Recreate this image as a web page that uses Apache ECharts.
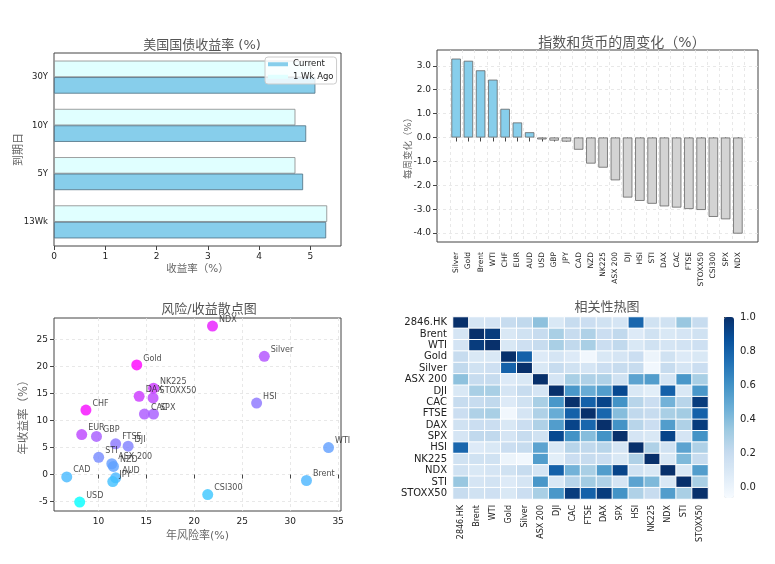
<!DOCTYPE html>
<html lang="zh">
<head>
<meta charset="UTF-8">
<title>市场周报</title>
<script src="https://cdn.jsdelivr.net/npm/echarts@6/dist/echarts.min.js"></script>
<style>
  html, body { margin: 0; padding: 0; background: #fff; }
  #main { width: 775px; height: 564px; }
</style>
</head>
<body>
<div id="main"></div>
<script>
  // 美国国债收益率
  var yieldCats = ['13Wk', '5Y', '10Y', '30Y'];
  var yieldCurrent = [5.31, 4.86, 4.92, 5.10];
  var yieldWeekAgo = [5.33, 4.71, 4.71, 5.02];

  // 指数和货币的周变化
  var weeklyNames = ['Silver', 'Gold', 'Brent', 'WTI', 'CHF', 'EUR', 'AUD', 'USD', 'GBP', 'JPY', 'CAD', 'NZD',
    'NK225', 'ASX 200', 'DJI', 'HSI', 'STI', 'DAX', 'CAC', 'FTSE', 'STOXX50', 'CSI300', 'SPX', 'NDX'];
  var weeklyChange = [3.30, 3.21, 2.81, 2.42, 1.20, 0.63, 0.22, -0.08, -0.13, -0.17, -0.51, -1.09,
    -1.26, -1.79, -2.51, -2.65, -2.77, -2.88, -2.93, -2.99, -3.03, -3.32, -3.42, -4.02];

  // 风险/收益
  var scatterNames = ['NDX', 'Silver', 'Gold', 'NK225', 'DAX', 'STOXX50', 'HSI', 'CHF', 'CAC', 'SPX', 'EUR', 'GBP',
    'FTSE', 'DJI', 'WTI', 'STI', 'ASX 200', 'NZD', 'CAD', 'AUD', 'JPY', 'Brent', 'CSI300', 'USD'];
  var scatterRisk = [21.9, 27.3, 14.0, 15.75, 14.25, 15.7, 26.5, 8.7, 14.8, 15.75, 8.26, 9.8,
    11.8, 13.1, 34.0, 10.03, 11.4, 11.57, 6.7, 11.8, 11.5, 31.7, 21.4, 8.05];
  var scatterReturn = [27.5, 21.9, 20.3, 16.0, 14.5, 14.2, 13.25, 11.95, 11.2, 11.2, 7.4, 7.06,
    5.7, 5.26, 5.0, 3.2, 2.0, 1.5, -0.43, -0.6, -1.3, -1.1, -3.7, -5.1];

  // 相关性
  var corrNames = ['2846.HK', 'Brent', 'WTI', 'Gold', 'Silver', 'ASX 200', 'DJI', 'CAC', 'FTSE', 'DAX', 'SPX',
    'HSI', 'NK225', 'NDX', 'STI', 'STOXX50'];
  var corrMatrix = [
    [1.00, 0.12, 0.13, 0.20, 0.22, 0.38, 0.10, 0.20, 0.18, 0.15, 0.12, 0.78, 0.15, 0.15, 0.35, 0.20],
    [0.12, 1.00, 0.95, 0.10, 0.15, 0.20, 0.30, 0.20, 0.28, 0.18, 0.22, 0.08, 0.15, 0.10, 0.12, 0.15],
    [0.13, 0.95, 1.00, 0.10, 0.16, 0.20, 0.30, 0.22, 0.30, 0.18, 0.22, 0.10, 0.15, 0.12, 0.14, 0.16],
    [0.20, 0.10, 0.10, 1.00, 0.80, 0.08, 0.12, 0.08, -0.03, 0.10, 0.12, 0.18, 0.00, 0.15, 0.08, 0.10],
    [0.22, 0.15, 0.16, 0.80, 1.00, 0.10, 0.20, 0.15, 0.12, 0.18, 0.20, 0.20, -0.03, 0.20, 0.12, 0.18],
    [0.38, 0.20, 0.20, 0.08, 0.10, 1.00, 0.12, 0.30, 0.28, 0.28, 0.15, 0.52, 0.55, 0.12, 0.58, 0.30],
    [0.10, 0.30, 0.30, 0.12, 0.20, 0.12, 1.00, 0.58, 0.48, 0.55, 0.90, 0.10, 0.05, 0.80, 0.10, 0.58],
    [0.20, 0.20, 0.22, 0.08, 0.15, 0.30, 0.58, 1.00, 0.80, 0.92, 0.60, 0.25, 0.18, 0.45, 0.25, 0.95],
    [0.18, 0.28, 0.30, -0.03, 0.12, 0.28, 0.48, 0.80, 1.00, 0.78, 0.40, 0.22, 0.20, 0.30, 0.32, 0.80],
    [0.15, 0.18, 0.18, 0.10, 0.18, 0.28, 0.55, 0.92, 0.78, 1.00, 0.60, 0.25, 0.18, 0.55, 0.28, 0.95],
    [0.12, 0.22, 0.22, 0.12, 0.20, 0.15, 0.90, 0.60, 0.40, 0.60, 1.00, 0.12, 0.10, 0.92, 0.12, 0.60],
    [0.78, 0.08, 0.10, 0.18, 0.20, 0.52, 0.10, 0.25, 0.22, 0.25, 0.12, 1.00, 0.28, 0.15, 0.52, 0.28],
    [0.15, 0.15, 0.15, 0.00, -0.03, 0.55, 0.05, 0.18, 0.20, 0.18, 0.10, 0.28, 1.00, 0.10, 0.42, 0.20],
    [0.15, 0.10, 0.12, 0.15, 0.20, 0.12, 0.80, 0.45, 0.30, 0.55, 0.92, 0.15, 0.10, 1.00, 0.10, 0.55],
    [0.35, 0.12, 0.14, 0.08, 0.12, 0.58, 0.10, 0.25, 0.32, 0.28, 0.12, 0.52, 0.42, 0.10, 1.00, 0.30],
    [0.20, 0.15, 0.16, 0.10, 0.18, 0.30, 0.58, 0.95, 0.80, 0.95, 0.60, 0.28, 0.20, 0.55, 0.30, 1.00]
  ];
  var colorbarTicks = [0, 0.2, 0.4, 0.6, 0.8, 1.0];

  var FONT = 'DejaVu Sans, Noto Sans CJK SC, sans-serif';
  var frame = '#444';
  var dashed = { show: true, lineStyle: { color: '#e3e3e3', type: [3, 3], width: 0.8 } };

  var scatterData = scatterNames.map(function (n, i) {
    // 第三维用于着色：收益 / 风险
    return { name: n, value: [scatterRisk[i], scatterReturn[i], scatterReturn[i] / scatterRisk[i]] };
  });

  var heatData = [];
  corrMatrix.forEach(function (row, i) {
    row.forEach(function (v, j) { heatData.push([j, i, v]); });
  });

  function txt(size, color) {
    return { fontSize: size, color: color || '#222', fontFamily: FONT };
  }
  var titleStyle = { fontSize: 13, fontWeight: 'normal', color: '#555', fontFamily: FONT };

  var chart = echarts.init(document.getElementById('main'));
  var option = {
    backgroundColor: '#fff',
    animation: false,
    textStyle: { fontFamily: FONT },
    title: [
      { text: '美国国债收益率 (%)', left: 197, top: 34, textAlign: 'center', textStyle: titleStyle },
      { text: '指数和货币的周变化（%）', left: 617, top: 31, textAlign: 'center',
        textStyle: Object.assign({}, titleStyle, { fontSize: 14 }) },
      { text: '风险/收益散点图', left: 204, top: 298, textAlign: 'center', textStyle: titleStyle },
      { text: '相关性热图', left: 602, top: 296, textAlign: 'center', textStyle: titleStyle }
    ],
    legend: {
      data: ['Current', '1 Wk Ago'],
      orient: 'vertical',
      left: 265, top: 57,
      itemWidth: 20, itemHeight: 4, itemGap: 4,
      icon: 'rect',
      padding: [3, 3],
      backgroundColor: 'rgba(255,255,255,0.8)',
      borderColor: '#ccc', borderWidth: 1, borderRadius: 3,
      itemStyle: { borderWidth: 0 },
      textStyle: txt(8.5)
    },
    grid: [
      { left: 54, top: 53, width: 287, height: 193, show: true, borderColor: frame, borderWidth: 1 },
      { left: 437, top: 50, width: 321, height: 192, show: true, borderColor: frame, borderWidth: 1 },
      { left: 450, top: 50, width: 294, height: 192 },
      { left: 54, top: 318, width: 287, height: 193, show: true, borderColor: frame, borderWidth: 1 },
      { left: 453, top: 317, width: 255, height: 182 },
      { left: 724, top: 317, width: 10, height: 181 }
    ],
    xAxis: [
      { gridIndex: 0, type: 'value', min: 0, max: 5.6, interval: 1,
        axisLine: { show: false }, axisTick: { show: true, length: 4, lineStyle: { color: frame } },
        axisLabel: Object.assign({ showMaxLabel: false, margin: 6 }, txt(9)), splitLine: { show: false },
        name: '收益率（%）', nameLocation: 'middle', nameGap: 18, nameMoveOverlap: false, nameTextStyle: txt(10.5, '#666') },
      { gridIndex: 1, type: 'value', min: 0, max: 1, show: false },
      { gridIndex: 2, type: 'category', data: weeklyNames,
        axisLine: { show: false }, axisTick: { show: true, alignWithLabel: true, length: 4, lineStyle: { color: frame } },
        axisLabel: Object.assign({ rotate: 90, interval: 0, margin: 10 }, txt(7.5)),
        splitLine: dashed },
      { gridIndex: 3, type: 'value', min: 5.37, max: 35.3,
        axisLine: { show: false }, axisTick: { length: 4, lineStyle: { color: frame }, customValues: [10, 15, 20, 25, 30, 35] },
        axisLabel: Object.assign({ customValues: [10, 15, 20, 25, 30, 35], margin: 6 }, txt(9)),
        splitLine: dashed,
        name: '年风险率(%)', nameLocation: 'middle', nameGap: 20, nameMoveOverlap: false, nameTextStyle: txt(11, '#666') },
      { gridIndex: 4, type: 'category', data: corrNames,
        axisLine: { show: false }, axisTick: { alignWithLabel: true, interval: 0, length: 4, lineStyle: { color: '#333' } },
        axisLabel: Object.assign({ rotate: 90, interval: 0, margin: 6 }, txt(8)),
        splitLine: { show: false } },
      { gridIndex: 5, type: 'value', show: false }
    ],
    yAxis: [
      { gridIndex: 0, type: 'category', data: yieldCats,
        axisLine: { show: false }, axisTick: { alignWithLabel: true, length: 4, lineStyle: { color: frame } },
        axisLabel: Object.assign({ margin: 6 }, txt(8.5)),
        name: '到期日', nameLocation: 'middle', nameGap: 29, nameMoveOverlap: false, nameTextStyle: txt(11, '#666') },
      { gridIndex: 1, type: 'value', min: -4.37, max: 3.66,
        axisLine: { show: false },
        axisTick: { length: 4, lineStyle: { color: frame }, customValues: [-4, -3, -2, -1, 0, 1, 2, 3] },
        axisLabel: Object.assign({ customValues: [-4, -3, -2, -1, 0, 1, 2, 3], margin: 6,
          formatter: function (v) { return v.toFixed(1); } }, txt(9)),
        splitLine: dashed,
        name: '每周变化（%）', nameLocation: 'middle', nameGap: 24, nameMoveOverlap: false, nameTextStyle: txt(9.5, '#666') },
      { gridIndex: 2, type: 'value', min: -4.37, max: 3.66, show: false },
      { gridIndex: 3, type: 'value', min: -6.75, max: 29,
        axisLine: { show: false },
        axisTick: { length: 4, lineStyle: { color: frame }, customValues: [-5, 0, 5, 10, 15, 20, 25] },
        axisLabel: Object.assign({ customValues: [-5, 0, 5, 10, 15, 20, 25], margin: 6 }, txt(9)),
        splitLine: dashed,
        name: '年收益率（%）', nameLocation: 'middle', nameGap: 24, nameMoveOverlap: false, nameTextStyle: txt(11.5, '#666') },
      { gridIndex: 4, type: 'category', data: corrNames, inverse: true,
        axisLine: { show: false }, axisTick: { alignWithLabel: true, interval: 0, length: 4, lineStyle: { color: '#333' } },
        axisLabel: Object.assign({ margin: 6, interval: 0 }, txt(10)), splitLine: { show: false } },
      { gridIndex: 5, type: 'value', min: -0.06, max: 1.0, position: 'right',
        axisLine: { show: false },
        axisTick: { show: true, length: 4, lineStyle: { color: '#333' }, customValues: colorbarTicks },
        axisLabel: Object.assign({ customValues: colorbarTicks, margin: 6,
          formatter: function (v) { return v.toFixed(1); } }, txt(10)),
        splitLine: { show: false } }
    ],
    visualMap: [
      { type: 'continuous', seriesIndex: 4, min: -0.06, max: 1.0, dimension: 2,
        orient: 'vertical', left: 724, top: 317, itemWidth: 10, itemHeight: 181,
        padding: 0, text: ['', ''], showLabel: false, calculable: false, hoverLink: false,
        inRange: { color: ['#f7fbff', '#deebf7', '#c6dbef', '#9ecae1', '#6baed6', '#4292c6', '#2171b5', '#08519c', '#08306b'] } },
      { type: 'continuous', seriesIndex: 3, min: -0.64, max: 1.45, dimension: 2, show: false,
        inRange: { color: ['#00ffff', '#ff00ff'] } }
    ],
    series: [
      { name: '1 Wk Ago', type: 'bar', xAxisIndex: 0, yAxisIndex: 0, data: yieldWeekAgo,
        barWidth: 16.5, barGap: '0%',
        itemStyle: { color: '#E0FFFF', borderColor: '#888', borderWidth: 0.8 } },
      { name: 'Current', type: 'bar', xAxisIndex: 0, yAxisIndex: 0, data: yieldCurrent,
        barWidth: 16.5, barGap: '0%',
        itemStyle: { color: '#87CEEB', borderColor: '#4f6f80', borderWidth: 0.8 } },
      { name: 'weekly', type: 'bar', xAxisIndex: 2, yAxisIndex: 2, barWidth: 9.5,
        data: weeklyChange.map(function (v) {
          return { value: v, itemStyle: { color: v >= 0 ? '#87CEEB' : '#D3D3D3' } };
        }),
        itemStyle: { borderColor: '#666', borderWidth: 0.8 } },
      { name: 'riskReturn', type: 'scatter', xAxisIndex: 3, yAxisIndex: 3, data: scatterData,
        symbolSize: 11,
        itemStyle: { opacity: 0.8 },
        label: { show: true, formatter: '{b}', position: [12, -5], fontSize: 8, color: '#222', fontFamily: FONT } },
      { name: 'corr', type: 'heatmap', xAxisIndex: 4, yAxisIndex: 4, data: heatData,
        itemStyle: { borderColor: '#fff', borderWidth: 1 } }
    ]
  };
  chart.setOption(option);
</script>
</body>
</html>
